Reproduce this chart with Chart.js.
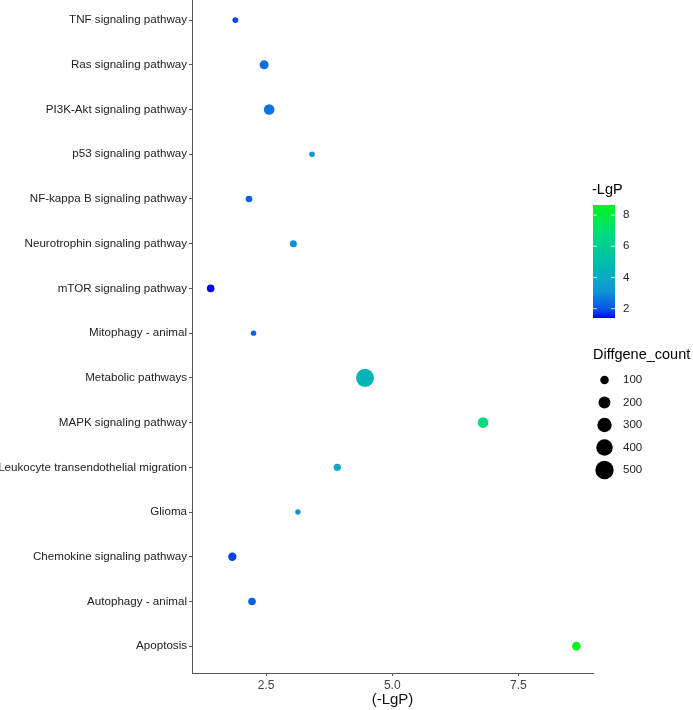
<!DOCTYPE html>
<html>
<head>
<meta charset="utf-8">
<script src="https://cdn.jsdelivr.net/npm/chart.js@4.4.0/dist/chart.umd.min.js"></script>
<style>
  html, body { margin: 0; padding: 0; background: #fff; }
  #wrap { width: 693px; height: 710px; }
</style>
</head>
<body>
<div id="wrap"><canvas id="dotChart" width="693" height="710"></canvas></div>
<script>
// pathways, top to bottom as drawn
const pathways = [
    "TNF signaling pathway",
    "Ras signaling pathway",
    "PI3K-Akt signaling pathway",
    "p53 signaling pathway",
    "NF-kappa B signaling pathway",
    "Neurotrophin signaling pathway",
    "mTOR signaling pathway",
    "Mitophagy - animal",
    "Metabolic pathways",
    "MAPK signaling pathway",
    "Leukocyte transendothelial migration",
    "Glioma",
    "Chemokine signaling pathway",
    "Autophagy - animal",
    "Apoptosis"
];
const lgpValues = [1.89, 2.46, 2.56, 3.41, 2.16, 3.04, 1.40, 2.25, 4.46, 6.80, 3.91, 3.13, 1.83, 2.22, 8.65];
const geneCounts = [45, 110, 157, 39, 57, 64, 77, 36, 480, 157, 70, 35, 93, 77, 100];

const xTickValues = [2.5, 5.0, 7.5];
const colorbarTicks = [2, 4, 6, 8];
const sizeLegendValues = [100, 200, 300, 400, 500];

document.addEventListener("DOMContentLoaded", () => {
    const canvas = document.getElementById("dotChart");
    const lgpMin = Math.min(...lgpValues);
    const lgpMax = Math.max(...lgpValues);

    // blue -> teal -> green, as a fraction of the colour range
    const colorStops = [
        [0.00, [0, 0, 255]],
        [0.07, [10, 78, 236]],
        [0.15, [10, 112, 226]],
        [0.23, [12, 146, 214]],
        [0.34, [12, 168, 198]],
        [0.42, [0, 180, 184]],
        [0.74, [0, 220, 128]],
        [1.00, [0, 245, 30]]
    ];

    function colorAt(t) {
        t = Math.max(0, Math.min(1, t));
        for (let i = 1; i < colorStops.length; i++) {
            const [t1, c1] = colorStops[i];
            const [t0, c0] = colorStops[i - 1];
            if (t <= t1) {
                const f = (t - t0) / (t1 - t0);
                const c = c0.map((v, k) => Math.round(v + (c1[k] - v) * f));
                return `rgb(${c[0]},${c[1]},${c[2]})`;
            }
        }
        const c = colorStops[colorStops.length - 1][1];
        return `rgb(${c[0]},${c[1]},${c[2]})`;
    }

    function lgpColor(v) {
        return colorAt((v - lgpMin) / (lgpMax - lgpMin));
    }

    // radius in px from gene count (area scale)
    function countRadius(n) {
        return 0.34 + 0.396 * Math.sqrt(n);
    }

    const nCat = pathways.length;
    const points = pathways.map((name, i) => ({
        x: lgpValues[i],
        y: nCat - i,
        r: countRadius(geneCounts[i])
    }));

    const textFont = "'Liberation Sans', Arial, sans-serif";

    // legends on the right side
    const legendPlugin = {
        id: "sideLegends",
        afterDraw(chart) {
            const ctx = chart.ctx;
            ctx.save();

            // colour bar
            const barX = 593, barW = 22, barTop = 205, barBottom = 318;
            ctx.fillStyle = "#000";
            ctx.font = `14.5px ${textFont}`;
            ctx.textAlign = "left";
            ctx.textBaseline = "middle";
            ctx.fillText("-LgP", barX - 1, 190);

            const grad = ctx.createLinearGradient(0, barBottom, 0, barTop);
            colorStops.forEach(([t, c]) => grad.addColorStop(t, `rgb(${c[0]},${c[1]},${c[2]})`));
            ctx.fillStyle = grad;
            ctx.fillRect(barX, barTop, barW, barBottom - barTop);

            ctx.font = `11.5px ${textFont}`;
            ctx.fillStyle = "#222";
            colorbarTicks.forEach(v => {
                const y = barBottom - (v - lgpMin) / (lgpMax - lgpMin) * (barBottom - barTop);
                ctx.strokeStyle = "rgba(255,255,255,0.8)";
                ctx.lineWidth = 1;
                ctx.beginPath();
                ctx.moveTo(barX, y); ctx.lineTo(barX + 4, y);
                ctx.moveTo(barX + barW - 4, y); ctx.lineTo(barX + barW, y);
                ctx.stroke();
                ctx.fillText(String(v), 623, y);
            });

            // size legend
            ctx.fillStyle = "#000";
            ctx.font = `14.5px ${textFont}`;
            ctx.fillText("Diffgene_count", barX, 355);
            ctx.font = `11.5px ${textFont}`;
            sizeLegendValues.forEach((v, i) => {
                const y = 380 + i * 22.5;
                ctx.fillStyle = "#000";
                ctx.beginPath();
                ctx.arc(604.5, y, countRadius(v), 0, Math.PI * 2);
                ctx.fill();
                ctx.fillStyle = "#222";
                ctx.fillText(String(v), 623, y);
            });

            ctx.restore();
        }
    };

    new Chart(canvas.getContext("2d"), {
        type: "bubble",
        data: {
            datasets: [{
                label: "Diffgene_count",
                data: points,
                backgroundColor: lgpValues.map(lgpColor),
                borderWidth: 0,
                hoverBorderWidth: 0
            }]
        },
        options: {
            responsive: false,
            animation: false,
            layout: { autoPadding: false, padding: { left: 0, right: 100, top: 0, bottom: 0 } },
            plugins: {
                legend: { display: false },
                tooltip: { enabled: false }
            },
            scales: {
                x: {
                    type: "linear",
                    min: 1.03,
                    max: 8.98,
                    afterBuildTicks: (scale) => {
                        scale.ticks = xTickValues.map(v => ({ value: v }));
                    },
                    afterFit: (scale) => {
                        scale.height = 37;
                        scale.paddingLeft = 0;
                        scale.paddingRight = 0;
                    },
                    grid: { display: true, drawOnChartArea: false, drawTicks: true, tickLength: 3, color: "#555" },
                    border: { display: true, color: "#555", width: 1 },
                    ticks: {
                        padding: 2,
                        color: "#444",
                        font: { family: textFont, size: 12 },
                        callback: (v) => Number(v).toFixed(1)
                    },
                    title: {
                        display: true,
                        text: "(-LgP)",
                        color: "#111",
                        font: { family: textFont, size: 15 },
                        padding: { top: 0, bottom: 1 }
                    }
                },
                y: {
                    type: "linear",
                    min: 0.4,
                    max: 15.45,
                    afterBuildTicks: (scale) => {
                        scale.ticks = pathways.map((p, i) => ({ value: nCat - i }));
                    },
                    afterFit: (scale) => {
                        scale.width = 192;
                        scale.paddingTop = 0;
                        scale.paddingBottom = 0;
                    },
                    grid: { display: true, drawOnChartArea: false, drawTicks: true, tickLength: 3, color: "#555" },
                    border: { display: true, color: "#555", width: 1 },
                    ticks: {
                        padding: 2,
                        color: "#222",
                        font: { family: textFont, size: 11.6 },
                        callback: (v) => pathways[nCat - Math.round(v)]
                    }
                }
            }
        },
        plugins: [legendPlugin]
    });
});
</script>
</body>
</html>
